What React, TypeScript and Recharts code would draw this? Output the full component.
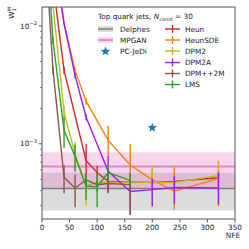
import React from 'react';
import { ComposedChart, Line, Scatter, XAxis, YAxis, ErrorBar, ReferenceArea, ReferenceLine } from 'recharts';

// axis ticks
const xTicks = [0, 50, 100, 150, 200, 250, 300, 350];
const yTicks = [3e-4, 4e-4, 5e-4, 6e-4, 7e-4, 8e-4, 9e-4, 1e-3, 2e-3, 3e-3, 4e-3, 5e-3, 6e-3, 7e-3, 8e-3, 9e-3, 1e-2];
const yMajor = [1e-3, 1e-2];

// reference bands (mean, low, high)
const delphes = [4.17e-4, 2.72e-4, 5.68e-4];
const mpgan = [6.42e-4, 4.2e-4, 8.5e-4];
const pcJedi = [{ x: 200, y: 1.37e-3 }];

// samplers: NFE, W1M, error [low, high]
const heunNfe = [20, 40, 80, 100, 120, 160, 200, 240, 320];
const heunW = [2.3e-2, 4.2e-3, 7.2e-4, 5.7e-4, 4.8e-4, 4.75e-4, 4.7e-4, 4.8e-4, 5.15e-4];
const heunErr = [[0, 0], [3e-4, 3e-4], [2.8e-4, 2.8e-4], [8e-5, 8e-5], [7e-5, 7e-5], [7e-5, 7e-5], [7e-5, 7e-5], [7e-5, 7e-5], [8e-5, 8e-5]];

const heunSdeNfe = [20, 40, 60, 80, 120, 160, 200, 240, 320];
const heunSdeW = [4e-2, 1.05e-2, 4.2e-3, 2.3e-3, 1.07e-3, 6.6e-4, 4.95e-4, 3.96e-4, 5.06e-4];
const heunSdeErr = [[0, 0], [0, 0], [2e-4, 2e-4], [1.5e-4, 1.5e-4], [3e-4, 3.5e-4], [3.4e-4, 3.4e-4], [1.35e-4, 1.35e-4], [1.2e-4, 2.35e-4], [2.1e-4, 2.1e-4]];

const dpm2Nfe = [20, 40, 60, 80, 100, 120, 160, 200, 240, 320];
const dpm2W = [1.5e-2, 1.85e-3, 8.2e-4, 4.4e-4, 4.7e-4, 4.7e-4, 4.75e-4, 4.7e-4, 4.7e-4, 5.4e-4];
const dpm2Err = [[0, 0], [2.5e-4, 2.5e-4], [2.2e-4, 2.2e-4], [1.4e-4, 1e-4], [5e-5, 5e-5], [5e-5, 5e-5], [5e-5, 5e-5], [1.65e-4, 1.65e-4], [6e-5, 6e-5], [1.5e-4, 1.5e-4]];

const dpm2aNfe = [20, 40, 60, 80, 120, 160, 200, 240, 320];
const dpm2aW = [5e-2, 1.05e-2, 3.8e-3, 1.68e-3, 5.85e-4, 3.94e-4, 4.08e-4, 4.26e-4, 4.21e-4];
const dpm2aErr = [[0, 0], [0, 0], [2e-4, 2e-4], [1e-4, 1e-4], [2e-4, 2e-4], [1.44e-4, 9e-5], [1.15e-4, 1e-4], [1.2e-4, 1.05e-4], [1.15e-4, 1.5e-4]];

const dpmppNfe = [10, 20, 40, 60, 80, 100, 120, 160];
const dpmppW = [2.3e-2, 4.2e-3, 5.2e-4, 4.2e-4, 4.95e-4, 4.5e-4, 4.6e-4, 4.5e-4];
const dpmppErr = [[0, 0], [3e-4, 3e-4], [1.4e-4, 1.4e-4], [1.3e-4, 1.3e-4], [6e-5, 6e-5], [6e-5, 6e-5], [8e-5, 8e-5], [2e-4, 1e-4]];

const lmsNfe = [10, 20, 40, 60, 80, 100, 120, 160];
const lmsW = [4e-2, 7.5e-3, 1.3e-3, 7.8e-4, 4.4e-4, 4.3e-4, 5.7e-4, 4.9e-4];
const lmsErr = [[0, 0], [5e-4, 5e-4], [3.8e-4, 3.8e-4], [2e-4, 2e-4], [1.05e-4, 1.05e-4], [1.4e-4, 1.4e-4], [1e-4, 1e-4], [5e-5, 8e-5]];

const series = [
  { name: 'Heun', color: '#d62728', nfe: heunNfe, w: heunW, err: heunErr },
  { name: 'HeunSDE', color: '#ff7f0e', nfe: heunSdeNfe, w: heunSdeW, err: heunSdeErr },
  { name: 'DPM2', color: '#bcbd22', nfe: dpm2Nfe, w: dpm2W, err: dpm2Err },
  { name: 'DPM2A', color: '#a020f0', nfe: dpm2aNfe, w: dpm2aW, err: dpm2aErr },
  { name: 'DPM++2M', color: '#8c564b', nfe: dpmppNfe, w: dpmppW, err: dpmppErr },
  { name: 'LMS', color: '#2ca02c', nfe: lmsNfe, w: lmsW, err: lmsErr },
];

const FONT = 'DejaVu Sans';
const PLOT = { left: 42, right: 235, top: 7, bottom: 219 };

const starPath = (cx: number, cy: number, r: number) => {
  const pts: string[] = [];
  for (let i = 0; i < 10; i++) {
    const rad = i % 2 === 0 ? r : r * 0.42;
    const a = -Math.PI / 2 + (i * Math.PI) / 5;
    pts.push(`${cx + rad * Math.cos(a)},${cy + rad * Math.sin(a)}`);
  }
  return 'M' + pts.join('L') + 'Z';
};

const XTick = (props: any) => {
  const { x, payload } = props;
  return (
    <g>
      <line x1={x} x2={x} y1={PLOT.bottom} y2={PLOT.bottom + 3.5} stroke="#333" strokeWidth={0.8} />
      <text x={x} y={PLOT.bottom + 11} textAnchor="middle" fontSize={7.3} fontFamily={FONT} fill="#222">
        {payload.value}
      </text>
    </g>
  );
};

const YTick = (props: any) => {
  const { y, payload } = props;
  const major = yMajor.some(m => Math.abs(m - payload.value) / m < 1e-6);
  const exp = Math.round(Math.log10(payload.value));
  return (
    <g>
      <line x1={PLOT.left - (major ? 3.5 : 2)} x2={PLOT.left} y1={y} y2={y} stroke="#333" strokeWidth={major ? 0.8 : 0.6} />
      {major && (
        <text x={PLOT.left - 5} y={y + 2.5} textAnchor="end" fontSize={7.3} fontFamily={FONT} fill="#222">
          10<tspan dy={-3.5} fontSize={5.2}>{'\u2212' + Math.abs(exp)}</tspan>
        </text>
      )}
    </g>
  );
};

const ErrHandle = ({ x, y, color }: { x: number; y: number; color: string }) => (
  <g>
    <line x1={x} x2={x + 15} y1={y} y2={y} stroke={color} strokeWidth={1.4} />
    <line x1={x + 7.5} x2={x + 7.5} y1={y - 4} y2={y + 4} stroke={color} strokeWidth={1.4} />
  </g>
);

const Legend = () => {
  const rightRows = [29, 40, 51, 62.5, 73.5, 84.5];
  return (
    <svg width={249} height={249} style={{ position: 'absolute', left: 0, top: 0, pointerEvents: 'none' }}>
      <g fontFamily={FONT} fontSize={7.3} fill="#222">
        <text x={98} y={19}>
          Top quark jets, <tspan fontStyle="italic">N</tspan>
          <tspan dy={1.8} fontSize={5}>const</tspan>
          <tspan dy={-1.8}> = 30</tspan>
        </text>
        <rect x={98} y={26} width={15} height={6} fill="#808080" fillOpacity={0.28} />
        <line x1={98} x2={113} y1={29} y2={29} stroke="#808080" strokeWidth={1.5} />
        <text x={120} y={31.7}>Delphes</text>
        <rect x={98} y={37} width={15} height={6} fill="#e377c2" fillOpacity={0.3} />
        <line x1={98} x2={113} y1={40} y2={40} stroke="#e377c2" strokeOpacity={0.85} strokeWidth={1.8} />
        <text x={120} y={42.7}>MPGAN</text>
        <path d={starPath(105.5, 51.5, 5)} fill="#1f77b4" />
        <text x={120} y={54.2}>PC-JeDi</text>
        {series.map((s, i) => (
          <g key={s.name}>
            <ErrHandle x={165} y={rightRows[i]} color={s.color} />
            <text x={185} y={rightRows[i] + 2.7}>{s.name}</text>
          </g>
        ))}
      </g>
      <rect x={PLOT.left} y={PLOT.top} width={PLOT.right - PLOT.left} height={PLOT.bottom - PLOT.top} fill="none" stroke="#555" strokeWidth={1} />
      <text x={233} y={238} textAnchor="middle" fontFamily={FONT} fontSize={7.3} fill="#222">NFE</text>
      <text transform={`translate(14, ${PLOT.top}) rotate(-90)`} textAnchor="end" fontFamily={FONT} fontSize={7.3} fill="#222">
        W<tspan dy={1.8} fontSize={5}>1</tspan>
        <tspan dy={-5} dx={-3} fontSize={5}>M</tspan>
      </text>
    </svg>
  );
};

const App: React.FC = () => {
  return (
    <div style={{ position: 'absolute', left: 0, top: 0, width: 249, height: 249, background: '#fff' }}>
      <ComposedChart width={249} height={249} margin={{ top: PLOT.top, right: 249 - PLOT.right, bottom: 0, left: 0 }}>
        <XAxis
          type="number"
          dataKey="x"
          domain={[0, 350]}
          ticks={xTicks}
          interval={0}
          allowDataOverflow
          height={30}
          axisLine={false}
          tickLine={false}
          tick={(p: any) => <XTick {...p} />}
        />
        <YAxis
          type="number"
          dataKey="y"
          scale="log"
          domain={[2.3e-4, 1.45e-2]}
          ticks={yTicks}
          interval={0}
          allowDataOverflow
          width={PLOT.left}
          axisLine={false}
          tickLine={false}
          tick={(p: any) => <YTick {...p} />}
        />
        <ReferenceArea y1={delphes[1]} y2={delphes[2]} fill="#808080" fillOpacity={0.28} stroke="none" />
        <ReferenceLine y={delphes[0]} stroke="#808080" strokeWidth={1.5} />
        <ReferenceArea y1={mpgan[1]} y2={mpgan[2]} fill="#e377c2" fillOpacity={0.3} stroke="none" />
        <ReferenceLine y={mpgan[0]} stroke="#e377c2" strokeOpacity={0.85} strokeWidth={1.8} />
        {series.map(s => (
          <Line
            key={s.name}
            data={s.nfe.map((x, i) => ({ x, y: s.w[i], e: s.err[i] }))}
            dataKey="y"
            stroke={s.color}
            strokeWidth={1.4}
            dot={false}
            isAnimationActive={false}
          >
            <ErrorBar dataKey="e" direction="y" width={0} stroke={s.color} strokeWidth={1.4} isAnimationActive={false} />
          </Line>
        ))}
        <Scatter
          data={pcJedi}
          dataKey="y"
          fill="#1f77b4"
          isAnimationActive={false}
          shape={(p: any) => <path d={starPath(p.cx, p.cy, 5)} fill="#1f77b4" />}
        />
      </ComposedChart>
      <Legend />
    </div>
  );
};

export default App;
